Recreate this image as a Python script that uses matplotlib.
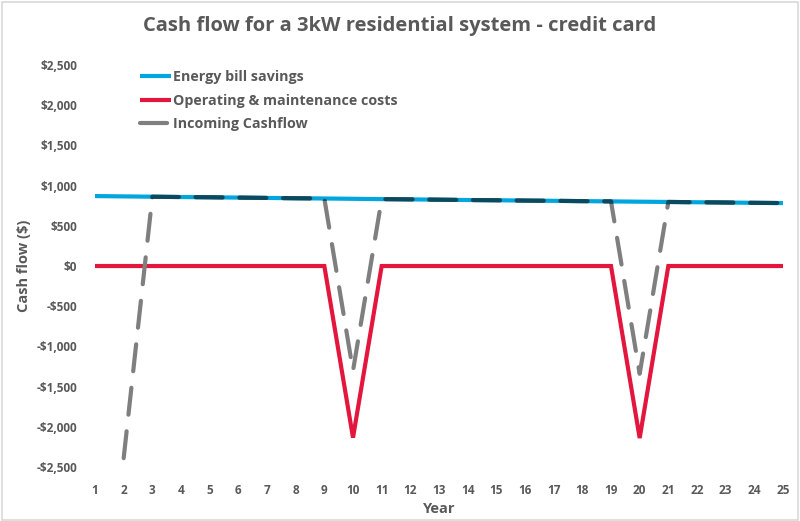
import matplotlib
matplotlib.use("Agg")
import matplotlib.pyplot as plt
from matplotlib.patches import Polygon, Rectangle
import numpy as np

years = list(range(1, 26))
savings = [870, 866, 862, 858, 855, 851, 847, 843, 840, 836, 832, 829, 825,
           821, 818, 814, 811, 807, 804, 800, 797, 793, 790, 786, 783]
om_costs = [0, 0, 0, 0, 0, 0, 0, 0, 0, -2135, 0, 0, 0, 0, 0, 0, 0, 0, 0,
            -2140, 0, 0, 0, 0, 0]
cashflow = [np.nan, -2390, 862, 858, 855, 851, 847, 843, 840, -1303, 832, 829,
            825, 821, 818, 814, 811, 807, 804, -1340, 797, 793, 790, 786, 783]
yticks = [-2500, -2000, -1500, -1000, -500, 0, 500, 1000, 1500, 2000, 2500]
ytick_labels = ["-$2,500", "-$2,000", "-$1,500", "-$1,000", "-$500", "$0",
                "$500", "$1,000", "$1,500", "$2,000", "$2,500"]
series_names = ["Energy bill savings", "Operating & maintenance costs",
                "Incoming Cashflow"]

plt.rcParams['font.family'] = ['Open Sans', 'DejaVu Sans']
TXT = "#595959"
BLUE = "#00A6DD"
RED = "#E3173E"
GRAY = "#7F7F7F"
TEAL = "#0A4A60"

fig = plt.figure(figsize=(8.0, 5.21), dpi=100)
ax = fig.add_axes([0.11875, 0.1036, 0.86, 0.7716])

l1, = ax.plot(years, savings, color=BLUE, lw=3, solid_capstyle='butt', zorder=2)
l2, = ax.plot(years, om_costs, color=RED, lw=3, solid_capstyle='butt',
              solid_joinstyle='miter', zorder=3)
dash = (6.5, 4.0)
l3, = ax.plot(years, cashflow, color=GRAY, lw=3, dashes=dash,
              dash_capstyle='round', zorder=4)
# darker overlap where cashflow runs on top of the savings line
l4, = ax.plot(years, cashflow, color=TEAL, lw=3, dashes=dash,
              dash_capstyle='round', zorder=5)
band = np.array([[x, s + 30] for x, s in zip(years, savings)] +
                [[x, s - 30] for x, s in zip(years[::-1], savings[::-1])])
clip = Polygon(band, closed=True, transform=ax.transData)
l4.set_clip_path(clip)

ax.set_xlim(1, 25)
ax.set_ylim(-2500, 2500)
ax.set_xticks(years)
ax.set_xticklabels([str(y) for y in years])
ax.set_yticks(yticks)
ax.set_yticklabels(ytick_labels)
for s in ax.spines.values():
    s.set_visible(False)
ax.tick_params(length=0, colors=TXT, labelsize=8.5)
ax.tick_params(axis='x', pad=12)
ax.tick_params(axis='y', pad=13)
for lab in ax.get_xticklabels() + ax.get_yticklabels():
    lab.set_fontweight('bold')

ax.set_xlabel("Year", fontsize=10.5, fontweight='bold', color=TXT, labelpad=4)
ax.set_ylabel("Cash flow ($)", fontsize=10.5, fontweight='bold', color=TXT,
              labelpad=4)

fig.text(0.5, 0.951, "Cash flow for a 3kW residential system - credit card",
         ha='center', va='center', fontsize=14.5, fontweight='bold', color=TXT)

leg = ax.legend([l1, l2, l3], series_names, loc='upper left',
                bbox_to_anchor=(0.168, 0.877), bbox_transform=fig.transFigure,
                frameon=False, fontsize=10.3, handlelength=2.15,
                handletextpad=0.15, labelspacing=0.68, borderaxespad=0)
for t in leg.get_texts():
    t.set_color(TXT)
    t.set_fontweight('bold')

fig.patches.append(Rectangle((0.002, 0.002), 0.996, 0.995, transform=fig.transFigure,
                             fill=False, edgecolor="#D9D9D9", lw=1.2))

fig.savefig("out.png", dpi=100)
